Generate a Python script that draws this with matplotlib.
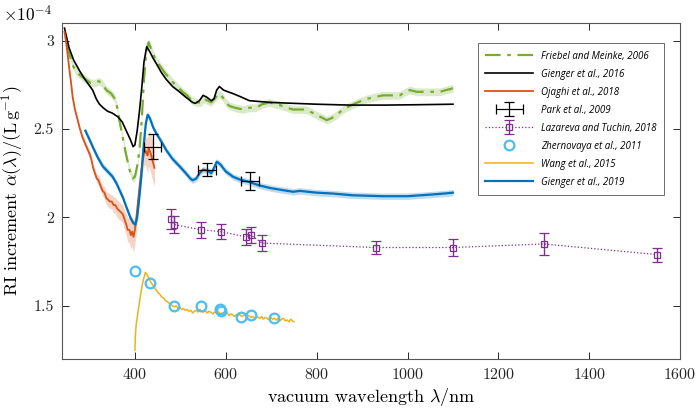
import numpy as np
import matplotlib
matplotlib.use("Agg")
import matplotlib.pyplot as plt
from matplotlib.lines import Line2D
from matplotlib.legend_handler import HandlerErrorbar

plt.rcParams['font.family'] = 'cmr10'
plt.rcParams['mathtext.fontset'] = 'cm'
plt.rcParams['axes.formatter.use_mathtext'] = True

# ---- data (units of 1e-4 L/g) ----
friebel_nm = [250, 255, 263, 272, 281, 292, 303, 312, 320, 327, 337, 348, 356, 362, 368, 374, 381, 388,
              395, 400, 405, 410, 415, 420, 425, 430, 436, 444, 454, 465, 475, 485, 497, 505, 515, 525,
              535, 545, 552, 560, 568, 575, 585, 593, 600, 608, 620, 638, 652, 667, 680, 697, 708, 719,
              735, 748, 765, 777, 792, 807, 815, 822, 832, 844, 858, 873, 890, 910, 928, 946, 965, 983,
              995, 1005, 1020, 1042, 1060, 1071, 1085, 1100]
friebel_val = [2.98, 2.93, 2.86, 2.82, 2.80, 2.78, 2.76, 2.76, 2.77, 2.76, 2.72, 2.70, 2.67, 2.61, 2.52,
               2.44, 2.35, 2.27, 2.22, 2.23, 2.29, 2.38, 2.55, 2.78, 2.94, 2.99, 2.95, 2.90, 2.86, 2.82,
               2.79, 2.76, 2.73, 2.71, 2.69, 2.66, 2.65, 2.65, 2.67, 2.66, 2.65, 2.67, 2.70, 2.68, 2.65,
               2.63, 2.62, 2.61, 2.62, 2.62, 2.64, 2.65, 2.64, 2.635, 2.62, 2.61, 2.61, 2.61, 2.59, 2.57,
               2.56, 2.55, 2.56, 2.58, 2.61, 2.63, 2.65, 2.67, 2.68, 2.69, 2.69, 2.69, 2.71, 2.72, 2.71,
               2.71, 2.71, 2.71, 2.72, 2.73]
friebel_err = 0.022

gienger16_nm = [245, 255, 265, 278, 290, 307, 315, 322, 330, 340, 350, 362, 372, 381, 390, 396, 400, 405,
                410, 415, 420, 426, 432, 440, 447, 458, 469, 483, 498, 512, 527, 533, 542, 550, 558, 568,
                574, 580, 586, 595, 605, 616, 630, 652, 675, 700, 748, 800, 873, 950, 1020, 1100]
gienger16_val = [3.07, 2.96, 2.89, 2.83, 2.78, 2.72, 2.67, 2.64, 2.62, 2.60, 2.59, 2.57, 2.54, 2.49, 2.44,
                 2.40, 2.41, 2.49, 2.60, 2.73, 2.88, 2.965, 2.94, 2.90, 2.87, 2.82, 2.78, 2.74, 2.71, 2.68,
                 2.65, 2.645, 2.66, 2.69, 2.68, 2.66, 2.67, 2.72, 2.74, 2.72, 2.71, 2.70, 2.685, 2.66,
                 2.655, 2.65, 2.645, 2.64, 2.635, 2.635, 2.637, 2.64]

ojaghi_nm = [245, 248, 252, 256, 260, 263, 268, 274, 279, 285, 290, 295, 300, 304, 308, 312, 316, 320,
             324, 329, 333, 337, 341, 345, 349, 353, 357, 361, 365, 369, 373, 377, 381, 384, 388, 391,
             394, 397, 400, 403, 406, 410, 414, 417, 420, 423, 426, 428, 430, 432, 435, 438, 441, 443]
ojaghi_val = [3.05, 3.00, 2.92, 2.83, 2.75, 2.68, 2.61, 2.55, 2.50, 2.45, 2.42, 2.39, 2.36, 2.33, 2.28,
              2.25, 2.22, 2.21, 2.18, 2.15, 2.14, 2.11, 2.10, 2.09, 2.09, 2.07, 2.07, 2.05, 2.04, 2.03,
              2.02, 1.99, 1.96, 1.93, 1.93, 1.90, 1.92, 1.89, 1.93, 1.99, 2.07, 2.17, 2.26, 2.32, 2.36,
              2.38, 2.36, 2.35, 2.39, 2.38, 2.36, 2.33, 2.30, 2.28]
ojaghi_err = [0.01, 0.01, 0.01, 0.01, 0.012, 0.012, 0.015, 0.015, 0.015, 0.02, 0.02, 0.02, 0.02, 0.02,
              0.02, 0.025, 0.025, 0.03, 0.03, 0.03, 0.035, 0.035, 0.04, 0.04, 0.04, 0.045, 0.045, 0.05,
              0.05, 0.05, 0.05, 0.055, 0.06, 0.07, 0.07, 0.08, 0.08, 0.09, 0.08, 0.07, 0.06, 0.06, 0.06,
              0.06, 0.07, 0.08, 0.09, 0.10, 0.10, 0.10, 0.11, 0.11, 0.11, 0.10]

park_nm = [439, 559, 654]
park_val = [2.40, 2.27, 2.205]
park_xerr = [18, 20, 20]
park_yerr = [0.069, 0.038, 0.052]

lazareva_nm = [480, 486, 546, 589, 644, 656, 680, 930, 1100, 1300, 1550]
lazareva_val = [1.99, 1.96, 1.93, 1.92, 1.89, 1.90, 1.855, 1.83, 1.83, 1.85, 1.79]
lazareva_err = [0.058, 0.05, 0.045, 0.042, 0.045, 0.045, 0.045, 0.035, 0.05, 0.06, 0.04]

zhern_nm = [400, 434, 486, 546, 588, 589, 633, 656, 706]
zhern_val = [1.70, 1.63, 1.50, 1.50, 1.48, 1.47, 1.44, 1.45, 1.43]

wang_nm = [400, 401, 403, 405, 407, 410, 413, 417, 420, 423, 426, 429, 432, 436, 440, 444, 447, 451,
           455, 459, 463, 467, 471, 475, 479, 483, 487, 491, 495, 499, 503, 507, 511, 515, 519, 523,
           527, 531, 535, 539, 543, 547, 551, 555, 559, 563, 567, 571, 575, 579, 583, 587, 591, 595,
           599, 603, 607, 611, 615, 619, 623, 627, 631, 635, 639, 643, 647, 651, 655, 659, 663, 667,
           671, 675, 679, 683, 687, 691, 695, 699, 703, 707, 711, 715, 719, 723, 727, 731, 735, 739,
           743, 747, 750]
wang_val = [1.25, 1.33, 1.40, 1.43, 1.47, 1.52, 1.57, 1.63, 1.66, 1.69, 1.68, 1.665, 1.65, 1.63, 1.615,
            1.60, 1.59, 1.575, 1.565, 1.55, 1.545, 1.53, 1.525, 1.515, 1.51, 1.50, 1.495, 1.50, 1.485,
            1.49, 1.48, 1.485, 1.475, 1.48, 1.47, 1.475, 1.46, 1.47, 1.475, 1.465, 1.48, 1.47, 1.465,
            1.475, 1.46, 1.47, 1.465, 1.455, 1.465, 1.46, 1.47, 1.455, 1.46, 1.45, 1.455, 1.46, 1.445,
            1.455, 1.45, 1.44, 1.45, 1.445, 1.45, 1.44, 1.445, 1.455, 1.44, 1.445, 1.435, 1.44, 1.43,
            1.44, 1.435, 1.43, 1.44, 1.425, 1.435, 1.43, 1.42, 1.435, 1.425, 1.43, 1.42, 1.43, 1.415,
            1.425, 1.43, 1.415, 1.42, 1.41, 1.425, 1.415, 1.41]

gienger19_nm = [291, 300, 307, 318, 329, 340, 351, 360, 366, 374, 381, 390, 396, 401, 405, 410, 414, 419,
                424, 428, 433, 440, 447, 458, 469, 483, 498, 512, 522, 527, 535, 542, 550, 560, 568, 574,
                580, 588, 600, 616, 630, 652, 675, 700, 748, 763, 800, 836, 880, 946, 1000, 1056, 1080, 1100]
gienger19_val = [2.49, 2.44, 2.40, 2.34, 2.29, 2.26, 2.23, 2.19, 2.155, 2.11, 2.06, 2.00, 1.97, 1.96, 2.00,
                 2.12, 2.23, 2.40, 2.53, 2.58, 2.56, 2.51, 2.475, 2.43, 2.38, 2.33, 2.29, 2.25, 2.22, 2.21,
                 2.22, 2.25, 2.27, 2.265, 2.25, 2.28, 2.315, 2.30, 2.26, 2.23, 2.215, 2.20, 2.18, 2.165,
                 2.145, 2.15, 2.14, 2.135, 2.125, 2.12, 2.12, 2.13, 2.135, 2.14]
gienger19_err = 0.018

c_green = '#77AC30'
c_orange = '#D95319'
c_purple = '#7E2F8E'
c_cyan = '#4DBEEE'
c_gold = '#EDB120'
c_blue = '#0072BD'
green_dash = (0, (7, 3, 1.6, 3))

fig = plt.figure(figsize=(6.99, 4.15), dpi=100)
ax = fig.add_axes([0.089, 0.135, 0.884, 0.810])

# bands
fv = np.array(friebel_val)
ax.fill_between(friebel_nm, fv - friebel_err, fv + friebel_err, color=c_green, alpha=0.25, lw=0)
bv = np.array(gienger19_val)
ax.fill_between(gienger19_nm, bv - gienger19_err, bv + gienger19_err, color=c_blue, alpha=0.25, lw=0)
ov = np.array(ojaghi_val)
oe = np.array(ojaghi_err)
ax.fill_between(ojaghi_nm, ov - oe, ov + oe, color=c_orange, alpha=0.25, lw=0)

# lines
ax.plot(friebel_nm, friebel_val, color=c_green, lw=1.6, ls=green_dash)
ax.plot(gienger16_nm, gienger16_val, color='black', lw=1.2)
ax.plot(ojaghi_nm, ojaghi_val, color=c_orange, lw=1.3)
ax.plot(gienger19_nm, gienger19_val, color=c_blue, lw=1.6)
ax.plot(wang_nm, wang_val, color=c_gold, lw=1.1)

# points
h_park = ax.errorbar(park_nm, park_val, xerr=park_xerr, yerr=park_yerr, fmt='none',
                     ecolor='black', elinewidth=0.9, capsize=3.5, capthick=0.9, zorder=6)
h_laz = ax.errorbar(lazareva_nm, lazareva_val, yerr=lazareva_err, fmt='s', ls=':', color=c_purple,
                    ms=4, mfc='none', mew=0.9, elinewidth=1.0, capsize=3.5, capthick=1.0, lw=0.9,
                    zorder=6)
h_zh, = ax.plot(zhern_nm, zhern_val, 'o', ms=7, mfc='none', mec=c_cyan, mew=1.6, zorder=7)

ax.set_xlim(240, 1600)
ax.set_ylim(1.2, 3.1)
ax.set_xticks([400, 600, 800, 1000, 1200, 1400, 1600])
ax.set_yticks([1.5, 2, 2.5, 3])
ax.set_yticklabels(['1.5', '2', '2.5', '3'])
ax.tick_params(direction='in', top=True, right=True, length=5, width=0.7,
               labelsize=11.5, colors='#262626', pad=6)
for s in ax.spines.values():
    s.set_linewidth(0.8)
    s.set_color('#555555')

ax.set_xlabel(r'vacuum wavelength $\lambda$/nm', fontsize=13, labelpad=3)
ax.set_ylabel(r'RI increment $\alpha(\lambda)/(\mathrm{L\,g^{-1}})$', fontsize=13, labelpad=6)
fig.text(0.005, 0.965, r'$\times 10^{-4}$', fontsize=12.5, va='center', ha='left')

# legend
handles = [
    Line2D([], [], color=c_green, lw=1.6, ls=green_dash),
    Line2D([], [], color='black', lw=1.2),
    Line2D([], [], color=c_orange, lw=1.3),
    h_park,
    h_laz,
    h_zh,
    Line2D([], [], color=c_gold, lw=1.1),
    Line2D([], [], color=c_blue, lw=1.6),
]
labels = ['Friebel and Meinke, 2006', 'Gienger et al., 2016', 'Ojaghi et al., 2018',
          'Park et al., 2009', 'Lazareva and Tuchin, 2018', 'Zhernovaya et al., 2011',
          'Wang et al., 2015', 'Gienger et al., 2019']
leg = ax.legend(handles, labels, loc='upper right', bbox_to_anchor=(0.982, 0.955),
                prop={'family': 'Open Sans', 'style': 'italic', 'size': 7},
                frameon=True, fancybox=False, edgecolor='#444444', handlelength=4.9,
                labelspacing=0.72, borderpad=0.8, handletextpad=0.8, numpoints=1,
                handler_map={h_park: HandlerErrorbar(xerr_size=1.4, yerr_size=0.75),
                             h_laz: HandlerErrorbar(xerr_size=0.6, yerr_size=0.75)})
leg.get_frame().set_linewidth(0.7)

fig.savefig('out.png', dpi=100)
